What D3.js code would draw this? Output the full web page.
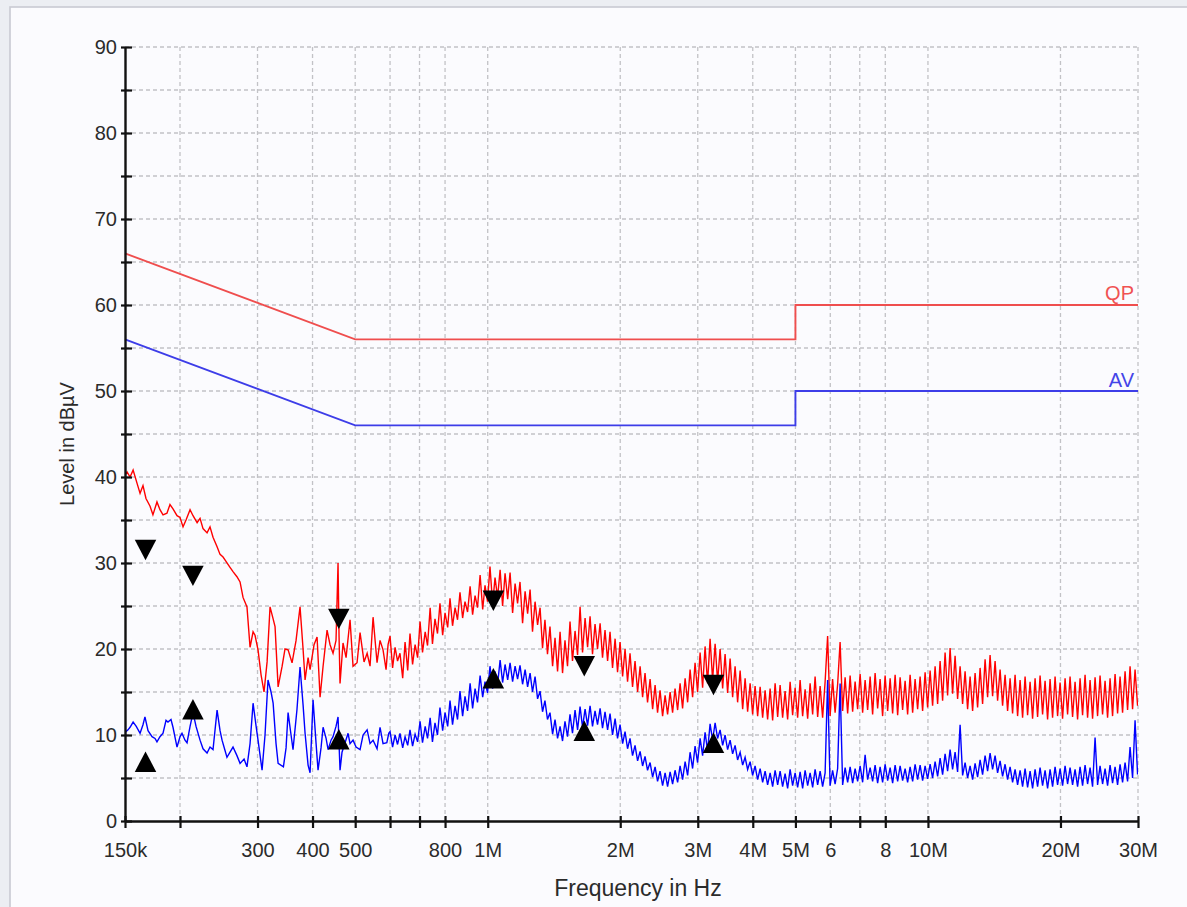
<!DOCTYPE html>
<html>
<head>
<meta charset="utf-8">
<script src="https://cdn.jsdelivr.net/npm/d3@7"></script>
<style>
	html, body { margin: 0; padding: 0; background: #eceef3; }
	svg { display: block; font-family: "Liberation Sans", Arial, sans-serif; }
</style>
</head>
<body>
<svg id="chart" width="1187" height="907"></svg>
<script>
// frequency axis (kHz) ticks and their labels
var xTickKHz = [150, 200, 300, 400, 500, 600, 700, 800, 1000, 2000, 3000, 4000, 5000, 6000, 7000, 8000, 10000, 20000, 30000];
var xTickText = {150: "150k", 300: "300", 400: "400", 500: "500", 800: "800", 1000: "1M", 2000: "2M", 3000: "3M",
	4000: "4M", 5000: "5M", 6000: "6", 8000: "8", 10000: "10M", 20000: "20M", 30000: "30M"};
var yTickDB = [0, 5, 10, 15, 20, 25, 30, 35, 40, 45, 50, 55, 60, 65, 70, 75, 80, 85, 90];

// limit lines [kHz, dBµV]
var qpLimit = [[150, 66], [500, 56], [5000, 56], [5000, 60], [30000, 60]];
var avLimit = [[150, 56], [500, 46], [5000, 46], [5000, 50], [30000, 50]];

// final measurement markers [kHz, dBµV]
var qpMarkers = [[167, 31.9], [214, 28.9], [459, 23.9], [1030, 26.0], [1657, 18.4], [3257, 16.2]];
var avMarkers = [[167, 6.5], [214, 12.6], [459, 9.1], [1030, 16.2], [1657, 10.1], [3257, 8.7]];

// pre-scan, low band (150k - 600k) [kHz, dBµV]
var qpLow = [[150,40.2],[151.6,40.6],[154,40.0],[156.5,40.8],[159.9,39.2],[162.3,38.1],[164.8,39.0],[167.4,37.5],[171,36.6],[173.6,35.6],
	[177.3,37.1],[180.1,36.2],[183,35.6],[186.8,35.8],[189.8,36.8],[192.8,36.3],[196.9,35.5],[200,35.3],[203.2,34.2],[206.4,35.0],
	[210.8,36.2],[214.1,35.5],[218.7,34.7],[222.1,35.2],[225.6,34.0],[230.4,33.5],[234,34.2],[237.7,33.0],[242.8,31.9],[246.6,31.0],
	[250.5,30.7],[254.4,30.2],[259.8,29.5],[263.9,29.0],[269.4,28.4],[273.8,27.8],[278.1,26.0],[283.9,24.9],[288.5,20.2],[293.1,22.0],
	[296.1,21.6],[300.8,19.9],[305.6,17.0],[310.4,15.0],[315.4,18.5],[320.3,24.9],[325.5,23.5],[328.8,22.6],[334.1,15.6],[341.2,18.0],
	[346.4,20.0],[352,19.9],[359.4,18.4],[367,21.0],[374.7,24.9],[380.7,20.0],[384.7,16.4],[390.8,19.0],[394.9,17.6],[403.2,20.5],
	[409.6,21.4],[416.1,14.4],[422.7,18.0],[431.6,22.2],[438.4,20.5],[445.3,19.5],[452.3,21.0],[457.1,30.0],[459.5,21.5],[461.9,16.0],
	[469.2,20.7],[476.7,19.0],[486.7,23.4],[494.4,18.0],[504.9,18.4],[512.9,21.9],[523.7,18.5],[532.2,19.5],[540.4,18.0],[549,23.7],
	[560.6,18.4],[569.4,21.0],[578.4,19.9],[587.6,17.6],[593.8,20.5]];
var avLow = [[150,10.3],[152.4,10.6],[154,10.9],[156.5,11.5],[159.1,11.0],[162.3,10.2],[164.8,11.2],[166.5,12.1],[169.2,10.5],[172.8,9.8],
	[175.5,9.6],[177.3,9.2],[180.1,9.8],[183,10.2],[185.9,11.7],[187.8,11.5],[190.8,11.8],[192.8,10.9],[196.9,8.6],[200,9.8],
	[202.1,10.2],[205.3,9.4],[207.5,9.1],[210.8,11.0],[214.1,12.6],[217.5,11.0],[222.1,9.4],[225.6,8.4],[230.4,7.9],[234,8.6],
	[237.7,8.3],[242.8,12.9],[246.6,10.5],[249.2,9.4],[253.1,8.2],[255.7,7.4],[259.8,8.0],[263.9,8.6],[269.4,7.6],[273.8,6.7],
	[279.6,7.2],[283.9,6.3],[288.5,9.0],[293.1,13.7],[297.8,11.0],[300.8,9.4],[307.2,5.9],[312,10.0],[316.9,16.4],[322,15.0],
	[325.5,13.7],[330.5,9.0],[334.1,6.7],[343.5,6.3],[348.3,8.5],[352,12.6],[357.5,10.0],[361.2,8.3],[368.8,13.0],[374.7,17.9],
	[380.7,13.5],[384.7,10.2],[390.8,6.5],[394.9,5.6],[401.1,14.1],[407.5,9.0],[411.7,5.9],[418.2,8.5],[422.7,10.9],[429.4,9.6],
	[433.9,8.3],[440.7,9.4],[445.3,9.8],[452.3,11.0],[457.1,12.1],[461.9,5.9],[466.7,8.0],[474.2,9.1],[481.7,10.2],[486.7,9.0],
	[494.4,9.4],[502.2,8.6],[512.9,8.3],[521,10.0],[532.2,10.6],[540.4,9.0],[549,9.4],[560.6,8.4],[569.4,10.9],[578.4,9.0],
	[590,9.1],[596,10.2]];

// pre-scan, dense band (600k - 30M), shared sweep frequencies in kHz
var sweepKHz = [600,608,616,624,632,641,649,658,666,675,684,693,702,711,721,730,740,749,759,769,779,790,800,811,821,832,843,854,865,877,888,900,912,924,936,948,961,974,986,999,
	1012,1026,1039,1053,1067,1081,1095,1110,1124,1139,1154,1169,1184,1200,1216,1232,1248,1264,1281,1298,1315,1332,1349,1367,1385,1404,1422,1441,1460,1479,
	1498,1518,1538,1558,1579,1600,1621,1642,1664,1686,1708,1730,1753,1776,1800,1823,1847,1872,1896,1921,1947,1972,1998,2025,2051,2078,2105,2133,2161,2190,
	2219,2248,2277,2307,2338,2369,2400,2431,2463,2496,2529,2562,2596,2630,2664,2700,2735,2771,2808,2845,2882,2920,2958,2997,3037,3077,3117,3158,3200,3242,
	3285,3328,3372,3417,3461,3507,3553,3600,3647,3695,3744,3794,3843,3894,3945,3997,4049,4103,4157,4212,4267,4323,4380,4438,4496,4556,4615,4676,4737,4800,
	4863,4927,4992,5058,5124,5192,5260,5330,5399,5471,5542,5616,5689,5764,5840,5917,5994,6073,6153,6235,6316,6400,6484,6570,6656,6744,6832,6922,7013,7106,
	7199,7294,7390,7487,7585,7686,7786,7889,7993,8099,8205,8313,8422,8534,8645,8759,8874,8991,9109,9230,9350,9474,9598,9725,9852,9982,10113,10246,10381,10518,
	10656,10797,10938,11082,11228,11376,11525,11677,11831,11987,12144,12304,12466,12631,12796,12965,13135,13308,13483,13661,13840,14023,14207,14394,14583,14775,14969,15167,15366,15569,
	15773,15981,16191,16405,16620,16839,17060,17285,17512,17743,17976,18213,18452,18695,18941,19191,19443,19699,19958,20221,20487,20757,21029,21307,21586,21871,22158,22450,22745,23045,
	23348,23656,23967,24283,24601,24925,25253,25586,25922,26264,26609,26960,27314,27674,28038,28407,28781,29160,29543,29932];
var qpSweep = [21.5,17.8,20.2,18.6, 19.5,16.6,20.8,17.5, 21.8,18.2,20.5,19.0, 23.2,19.6,22.0,20.4, 24.8,20.6,23.5,21.8, 25.3,21.6,24.2,22.5, 25.9,22.7,24.8,23.4, 26.6,23.6,25.5,24.3, 27.3,24.0,26.2,24.8, 28.6,24.6,27.4,25.5,
	29.6,25.2,28.3,26.0, 29.2,25.0,28.8,25.8, 28.9,24.2,27.6,25.3, 27.8,23.0,26.7,24.1, 26.9,22.0,25.5,22.8, 24.8,20.1,23.4,19.4, 22.6,18.0,21.3,17.4, 22.0,17.2,21.0,18.0, 23.2,18.6,22.1,19.3, 24.9,19.6,23.6,20.2,
	23.8,19.4,22.9,20.0, 23.0,19.0,22.2,18.6, 22.0,17.8,21.2,17.3, 20.8,16.8,20.0,16.2, 19.5,15.6,18.6,15.0, 18.0,14.4,17.2,13.8, 16.5,13.0,15.8,12.6, 15.2,12.2,14.6,12.4, 15.0,12.6,15.4,12.9, 16.0,13.1,16.6,13.8,
	17.6,14.4,18.4,15.0, 19.6,15.5,20.3,16.0, 21.2,16.4,20.6,16.2, 20.0,15.4,19.4,14.9, 18.9,14.4,18.0,13.8, 17.5,13.0,16.6,12.7, 16.0,12.4,15.7,12.2, 15.6,12.0,15.2,11.8, 15.4,11.7,16.0,12.1, 15.8,12.0,15.1,11.8,
	16.2,12.3,15.5,12.0, 16.4,12.2,15.3,11.9, 16.0,12.4,16.8,12.1, 15.7,12.0,16.2,21.5, 12.2,16.5,12.6,15.9, 20.8,12.8,16.7,12.5, 16.9,12.7,16.2,13.0, 17.1,12.6,16.4,12.9, 16.8,12.4,17.2,13.1, 16.5,12.2,16.9,12.8,
	16.6,12.5,17.0,12.3, 16.7,12.9,16.3,12.4, 17.0,12.6,16.5,13.0, 16.8,12.8,17.3,13.2, 17.5,13.4,18.0,13.6, 18.6,14.0,19.6,14.6, 20.1,14.8,19.2,14.2, 18.0,13.6,17.4,13.0, 16.8,12.8,17.2,13.2, 17.8,13.6,18.8,14.4,
	19.3,14.5,18.6,14.0, 17.6,13.4,17.0,12.8, 16.6,12.5,17.0,12.2, 16.4,12.0,16.8,12.3, 16.2,11.9,16.6,12.1, 16.9,12.4,16.3,11.8, 16.5,12.0,16.8,12.2, 16.1,11.9,16.6,12.4, 16.8,12.1,16.2,11.8, 16.6,12.3,17.0,12.0,
	16.4,11.9,16.7,12.2, 16.9,12.4,16.3,12.0, 16.6,12.2,17.1,12.5, 16.8,12.6,17.4,12.9, 18.0,13.0,17.6,13.4];
var avSweep = [10.4,8.6,10.0,8.9, 10.2,8.5,9.8,8.8, 10.6,8.7,10.1,9.2, 11.6,9.1,11.0,9.6, 12.0,9.2,11.4,10.0, 13.2,10.5,12.6,11.0, 14.0,11.2,13.4,11.8, 15.1,12.2,14.5,12.8, 16.0,13.1,15.4,13.8, 16.9,14.4,16.2,14.9,
	18.0,15.4,17.4,15.9, 18.7,16.1,18.2,16.4, 18.4,16.2,18.0,16.5, 18.1,15.9,17.6,15.6, 17.2,15.0,16.8,14.2, 15.1,12.7,14.0,11.8, 12.6,10.1,11.8,9.6, 11.0,9.3,11.6,9.8, 12.4,10.2,12.9,10.6, 13.3,10.9,13.0,11.1,
	13.4,11.0,12.8,11.2, 13.1,10.8,12.7,10.6, 12.5,10.0,11.9,9.6, 11.2,9.0,10.4,8.4, 9.6,7.6,8.8,7.0, 8.1,6.4,7.5,5.9, 6.8,5.1,6.3,4.6, 5.8,4.1,5.6,4.0, 5.7,4.3,5.9,4.5, 6.4,4.8,6.9,5.3,
	8.0,6.1,8.7,6.8, 9.6,7.6,10.3,8.2, 11.3,9.4,11.4,9.6, 10.6,8.8,10.0,8.3, 9.4,7.8,8.8,7.1, 8.0,6.5,7.4,6.0, 6.9,5.3,6.4,4.8, 6.1,4.5,5.8,4.2, 5.6,4.0,5.9,4.2, 5.8,4.0,5.5,3.8,
	6.0,4.1,5.6,3.9, 5.7,3.8,5.9,4.1, 5.6,3.9,6.0,4.2, 5.8,4.0,5.6,16.4, 4.1,5.9,4.3,6.1, 16.0,4.2,6.2,4.5, 6.3,4.4,6.1,4.6, 6.4,4.5,7.7,4.8, 6.2,4.6,6.5,4.4, 6.3,4.5,6.6,4.7,
	6.2,4.4,6.5,4.6, 6.4,4.7,6.1,4.5, 6.3,4.6,6.6,4.8, 6.5,4.7,6.4,4.9, 6.6,5.0,6.9,5.2, 7.3,5.4,7.8,5.8, 8.3,6.0,8.0,5.7, 11.2,5.3,6.8,5.0, 6.4,4.8,6.7,5.1, 7.1,5.4,7.6,5.8,
	7.9,6.0,7.6,5.6, 7.0,5.2,6.6,4.8, 6.3,4.5,6.0,4.2, 5.9,4.0,6.1,3.9, 5.8,3.8,6.0,4.0, 6.2,4.1,5.9,3.8, 6.0,4.0,6.3,4.2, 6.1,4.1,6.4,4.3, 6.2,4.2,6.0,4.0, 6.3,4.1,6.5,4.3,
	6.2,4.0,9.7,4.2, 6.4,4.3,6.1,4.1, 6.5,4.4,6.3,4.2, 6.6,4.5,6.8,4.6, 8.6,5.0,11.7,5.4];

var plot = {left: 125, right: 1138, top: 47, bottom: 821};
var svg = d3.select("#chart");

// panel background
svg.append("rect").attr("width", 1187).attr("height", 907).attr("fill", "#eceef3");
svg.append("rect")
	.attr("x", 10).attr("y", 7).attr("width", 1200).attr("height", 920)
	.attr("fill", "#fbfbfe").attr("stroke", "#c9cad3").attr("stroke-width", 1.6);

var x = d3.scaleLog().domain([150, 30000]).range([plot.left, plot.right]);
var y = d3.scaleLinear().domain([0, 90]).range([plot.bottom, plot.top]);

// dashed grid
var grid = svg.append("g")
	.attr("stroke", "#c2c2c6")
	.attr("stroke-width", 1.3)
	.attr("stroke-dasharray", "4,3");
grid.selectAll(".hgrid")
	.data(yTickDB.filter(function(v) { return v > 0; }))
	.join("line")
	.attr("x1", plot.left).attr("x2", plot.right)
	.attr("y1", function(d) { return y(d); }).attr("y2", function(d) { return y(d); });
grid.selectAll(".vgrid")
	.data(xTickKHz.filter(function(f) { return f > 150; }))
	.join("line")
	.attr("y1", plot.top).attr("y2", plot.bottom)
	.attr("x1", function(d) { return x(d); }).attr("x2", function(d) { return x(d); });

var line = d3.line()
	.x(function(d) { return x(d[0]); })
	.y(function(d) { return y(d[1]); });

// limit lines
svg.append("path").datum(qpLimit).attr("d", line)
	.attr("fill", "none").attr("stroke", "#ef4e4e").attr("stroke-width", 1.9);
svg.append("path").datum(avLimit).attr("d", line)
	.attr("fill", "none").attr("stroke", "#3d3de8").attr("stroke-width", 1.9);

// traces
var qpTrace = qpLow.concat(sweepKHz.map(function(f, i) { return [f, qpSweep[i]]; }));
var avTrace = avLow.concat(sweepKHz.map(function(f, i) { return [f, avSweep[i]]; }));

svg.append("defs").append("clipPath").attr("id", "plot-clip")
	.append("rect")
	.attr("x", plot.left).attr("y", plot.top)
	.attr("width", plot.right - plot.left).attr("height", plot.bottom - plot.top);

var traces = svg.append("g").attr("clip-path", "url(#plot-clip)");
traces.append("path").datum(qpTrace).attr("d", line)
	.attr("fill", "none").attr("stroke", "#ff0000").attr("stroke-width", 1.4);
traces.append("path").datum(avTrace).attr("d", line)
	.attr("fill", "none").attr("stroke", "#0000ff").attr("stroke-width", 1.4);

// triangle markers, centred on the centroid
var triangle = {
	draw: function(context, size) {
		var w = Math.sqrt(size) * 1.05, h = Math.sqrt(size);
		context.moveTo(0, -2 * h / 3);
		context.lineTo(w / 2, h / 3);
		context.lineTo(-w / 2, h / 3);
		context.closePath();
	}
};
var marker = d3.symbol().type(triangle).size(420);
svg.append("g").selectAll("path")
	.data(qpMarkers)
	.join("path")
	.attr("d", marker)
	.attr("fill", "#000")
	.attr("transform", function(d) { return "translate(" + x(d[0]) + "," + y(d[1]) + ") rotate(180)"; });
svg.append("g").selectAll("path")
	.data(avMarkers)
	.join("path")
	.attr("d", marker)
	.attr("fill", "#000")
	.attr("transform", function(d) { return "translate(" + x(d[0]) + "," + y(d[1]) + ")"; });

// axes
var yAxis = d3.axisLeft(y)
	.tickValues(yTickDB)
	.tickSizeInner(4).tickSizeOuter(0).tickPadding(4)
	.tickFormat(function(d) { return d % 10 === 0 ? d : ""; });
var gy = svg.append("g")
	.attr("transform", "translate(" + plot.left + ",0)")
	.call(yAxis)
	.attr("font-size", 20).attr("font-family", null);
gy.select(".domain").attr("stroke", "#111").attr("stroke-width", 2.4);
gy.selectAll(".tick line").attr("x1", 7).attr("stroke", "#111").attr("stroke-width", 2.2);
gy.selectAll(".tick text").attr("fill", "#2b2b2b");

var xAxis = d3.axisBottom(x)
	.tickValues(xTickKHz)
	.tickSizeInner(7).tickSizeOuter(0).tickPadding(15)
	.tickFormat(function(d) { return xTickText[d] || ""; });
var gx = svg.append("g")
	.attr("transform", "translate(0," + plot.bottom + ")")
	.call(xAxis)
	.attr("font-size", 20).attr("font-family", null);
gx.select(".domain").attr("stroke", "#111").attr("stroke-width", 2.4);
gx.selectAll(".tick line").attr("y1", -5).attr("stroke", "#111").attr("stroke-width", 2.2);
gx.selectAll(".tick text").attr("fill", "#2b2b2b");

// axis titles
svg.append("text")
	.attr("x", 638).attr("y", 896)
	.attr("text-anchor", "middle")
	.attr("font-size", 23).attr("fill", "#2b2b2b")
	.text("Frequency in Hz");
svg.append("text")
	.attr("transform", "translate(74,444) rotate(-90)")
	.attr("text-anchor", "middle")
	.attr("font-size", 20).attr("fill", "#2b2b2b")
	.text("Level in dBµV");

// limit labels
svg.append("text")
	.attr("x", 1134).attr("y", y(60) - 5)
	.attr("text-anchor", "end").attr("font-size", 20).attr("fill", "#f05252")
	.text("QP");
svg.append("text")
	.attr("x", 1134).attr("y", y(50) - 4)
	.attr("text-anchor", "end").attr("font-size", 20).attr("fill", "#4444e8")
	.text("AV");
</script>
</body>
</html>
